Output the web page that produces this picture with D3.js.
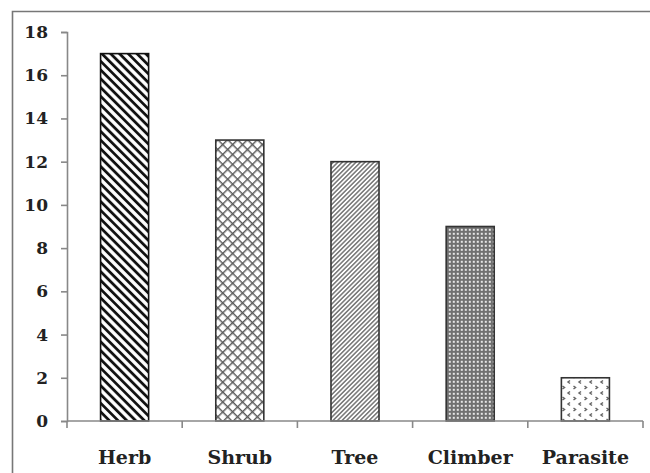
<!DOCTYPE html>
<html><head><meta charset="utf-8">
<script src="https://cdn.jsdelivr.net/npm/d3@7"></script>
<style>body{margin:0;background:#fff}svg{display:block}</style>
</head><body>
<script>
const categories = ["Herb", "Shrub", "Tree", "Climber", "Parasite"];
const values = [17, 13, 12, 9, 2];
const patterns = ["pHerb", "pShrub", "pTree", "pClimber", "pParasite"];
const yTicks = [0, 2, 4, 6, 8, 10, 12, 14, 16, 18];

const W = 650, H = 473;
const svg = d3.select("body").append("svg").attr("width", W).attr("height", H);
const defs = svg.append("defs");

// Herb: thick black back-diagonal lines (\)
let p = defs.append("pattern").attr("id","pHerb").attr("patternUnits","userSpaceOnUse")
  .attr("width",6.2).attr("height",6.2).attr("patternTransform","rotate(45)");
p.append("rect").attr("width",6.2).attr("height",6.2).attr("fill","#fff");
p.append("line").attr("x1",0).attr("y1",3.1).attr("x2",6.2).attr("y2",3.1).attr("stroke","#111").attr("stroke-width",2.8);

// Shrub: crosshatch diamonds
p = defs.append("pattern").attr("id","pShrub").attr("patternUnits","userSpaceOnUse")
  .attr("width",7).attr("height",7).attr("patternTransform","rotate(45)");
p.append("rect").attr("width",7).attr("height",7).attr("fill","#fff");
p.append("line").attr("x1",0).attr("y1",0.7).attr("x2",7).attr("y2",0.7).attr("stroke","#5a5a5a").attr("stroke-width",1.5);
p.append("line").attr("x1",0.7).attr("y1",0).attr("x2",0.7).attr("y2",7).attr("stroke","#5a5a5a").attr("stroke-width",1.5);

// Tree: thin forward diagonal lines (/)
p = defs.append("pattern").attr("id","pTree").attr("patternUnits","userSpaceOnUse")
  .attr("width",3.2).attr("height",3.2).attr("patternTransform","rotate(-45)");
p.append("rect").attr("width",3.2).attr("height",3.2).attr("fill","#fff");
p.append("line").attr("x1",0).attr("y1",1.6).attr("x2",3.2).attr("y2",1.6).attr("stroke","#6a6a6a").attr("stroke-width",1.4);

// Climber: dense grid of dots
p = defs.append("pattern").attr("id","pClimber").attr("patternUnits","userSpaceOnUse")
  .attr("width",4).attr("height",4);
p.append("rect").attr("width",4).attr("height",4).attr("fill","#707070");
p.append("rect").attr("x",0.8).attr("y",0.8).attr("width",2).attr("height",2).attr("fill","#e6e6e6");

// Parasite: sparse small chevrons
p = defs.append("pattern").attr("id","pParasite").attr("patternUnits","userSpaceOnUse")
  .attr("width",11).attr("height",11);
p.append("rect").attr("width",11).attr("height",11).attr("fill","#fff");
p.append("path").attr("d","M1.5,1 L3.5,2.5 L1.5,4").attr("fill","none").attr("stroke","#666").attr("stroke-width",1.5);
p.append("path").attr("d","M9,6.5 L7,8 L9,9.5").attr("fill","none").attr("stroke","#666").attr("stroke-width",1.5);

// outer frame (top and left)
svg.append("path").attr("d","M12.5,473 L12.5,11.5 L650,11.5").attr("fill","none").attr("stroke","#777").attr("stroke-width",1.6);

const x = d3.scaleBand().domain(categories).range([67, 643]).paddingInner(0.583).paddingOuter(0.2915);
const y = d3.scaleLinear().domain([0, 18]).range([421, 32]);

// bars
svg.append("g").selectAll("rect").data(categories).join("rect")
  .attr("x", d => x(d)).attr("width", x.bandwidth())
  .attr("y", (d,i) => y(values[i])).attr("height", (d,i) => y(0) - y(values[i]))
  .attr("fill", (d,i) => `url(#${patterns[i]})`)
  .attr("stroke", (d,i) => i === 0 ? "#111" : "#333").attr("stroke-width", 1.6);

// y axis
const ya = svg.append("g").attr("transform","translate(67,0)")
  .call(d3.axisLeft(y).tickValues(yTicks).tickSize(6).tickPadding(13).tickSizeOuter(6));
ya.select(".domain").attr("stroke","#888").attr("stroke-width",1.6);
ya.selectAll(".tick line").attr("stroke","#888").attr("stroke-width",1.6);
ya.selectAll(".tick text").attr("font-family","'DejaVu Serif', serif").attr("font-weight","bold")
  .attr("font-size",17).attr("fill","#222");

// x axis
const step = x.step();
const xa = svg.append("g").attr("transform","translate(0,421)");
xa.append("line").attr("x1",67).attr("x2",643).attr("stroke","#888").attr("stroke-width",1.6);
xa.selectAll("line.tk").data(d3.range(categories.length + 1)).join("line").attr("class","tk")
  .attr("x1", i => 67 + i*step).attr("x2", i => 67 + i*step)
  .attr("y1", 0).attr("y2", 7).attr("stroke","#888").attr("stroke-width",1.6);
xa.selectAll("text").data(categories).join("text")
  .attr("x", d => x(d) + x.bandwidth()/2).attr("y", 43)
  .attr("text-anchor","middle").attr("font-family","'DejaVu Serif', serif").attr("font-weight","bold")
  .attr("font-size",19).attr("fill","#222").text(d => d);
</script>
</body></html>
